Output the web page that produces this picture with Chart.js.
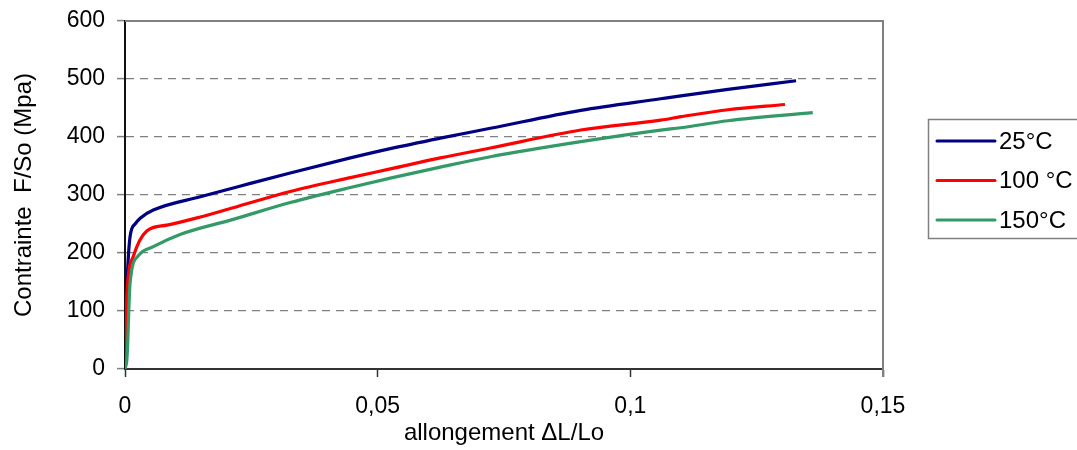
<!DOCTYPE html>
<html>
<head>
<meta charset="utf-8">
<script src="https://cdn.jsdelivr.net/npm/chart.js@4/dist/chart.umd.min.js"></script>
<style>
  html, body { margin: 0; padding: 0; background: #fff; }
  #wrap { width: 1077px; height: 450px; }
</style>
</head>
<body>
<div id="wrap"><canvas id="courbe"></canvas></div>
<script>
// allongement (ΔL/Lo) et contrainte (MPa)
const seriesLabels = ['25°C', '100 °C', '150°C'];
const seriesColors = ['#000080', '#ff0000', '#339966'];

const strain25 = [0, 0.0003, 0.001, 0.002, 0.003, 0.0056, 0.0149, 0.0248, 0.0327, 0.0446, 0.0525, 0.0624, 0.0723, 0.0902, 0.106, 0.11, 0.1193, 0.1328];
const stress25 = [0, 120, 228, 250, 260, 274, 297, 320, 338, 364, 380, 398, 415, 446, 466, 471, 482, 497];

const strain100 = [0, 0.0004, 0.0016, 0.0043, 0.0083, 0.0149, 0.0214, 0.0327, 0.0446, 0.0525, 0.0624, 0.0723, 0.0902, 0.106, 0.11, 0.1193, 0.1306];
const stress100 = [0, 131, 193, 238, 248, 262, 278, 306, 330, 345, 364, 381, 412, 429, 435, 447, 456];

const strain150 = [0, 0.0004, 0.001, 0.0026, 0.0056, 0.0109, 0.0214, 0.0327, 0.0446, 0.0525, 0.0624, 0.0723, 0.0902, 0.106, 0.11, 0.1193, 0.1361];
const stress150 = [0, 20, 148, 195, 211, 232, 258, 287, 313, 329, 348, 366, 392, 412, 416, 428, 442];

const xTicks = [0, 0.05, 0.1, 0.15];
const yTicks = [0, 100, 200, 300, 400, 500, 600];

const toPoints = (xs, ys) => xs.map((x, i) => ({ x: x, y: ys[i] }));
const allSeries = [toPoints(strain25, stress25), toPoints(strain100, stress100), toPoints(strain150, stress150)];

const FONT = '"Liberation Sans", Arial, sans-serif';

// cadre gris du haut et de droite + légende encadrée à droite
const cadre = {
    id: 'cadre',
    afterDraw(chart) {
        const { ctx, chartArea: a } = chart;
        ctx.save();
        ctx.strokeStyle = '#808080';
        ctx.lineWidth = 2;
        ctx.beginPath();
        ctx.moveTo(a.left, a.top);
        ctx.lineTo(a.right, a.top);
        ctx.lineTo(a.right, a.bottom + 8);
        ctx.stroke();

        // légende
        ctx.lineWidth = 1.5;
        ctx.strokeRect(928.5, 119.5, 160, 119);
        ctx.font = '24px ' + FONT;
        ctx.textBaseline = 'middle';
        chart.data.datasets.forEach((ds, i) => {
            const y = 141 + i * 39.5;
            ctx.strokeStyle = ds.borderColor;
            ctx.lineWidth = 3;
            ctx.lineCap = 'round';
            ctx.beginPath();
            ctx.moveTo(937, y);
            ctx.lineTo(995, y);
            ctx.stroke();
            ctx.fillStyle = '#000';
            ctx.fillText(ds.label, 999, y + 1);
        });
        ctx.restore();
    }
};

new Chart(document.getElementById('courbe'), {
    type: 'scatter',
    data: {
        datasets: allSeries.map((pts, i) => ({
            label: seriesLabels[i],
            data: pts,
            showLine: true,
            borderColor: seriesColors[i],
            backgroundColor: seriesColors[i],
            borderWidth: 3.2,
            pointRadius: 0,
            cubicInterpolationMode: 'monotone',
            order: 3 - i
        }))
    },
    options: {
        responsive: true,
        maintainAspectRatio: false,
        animation: false,
        layout: { padding: { top: 21, right: 194, left: 0, bottom: 0 } },
        plugins: {
            legend: { display: false },
            tooltip: { enabled: false }
        },
        scales: {
            x: {
                type: 'linear',
                min: 0,
                max: 0.15,
                afterFit: (s) => { s.height = 81; },
                afterBuildTicks: (s) => { s.ticks = xTicks.map((v) => ({ value: v })); },
                ticks: {
                    color: '#000',
                    padding: 16,
                    font: { family: FONT, size: 23 },
                    callback: (v) => String(v).replace('.', ',')
                },
                grid: { drawOnChartArea: false, tickLength: 8, tickColor: '#333', tickWidth: 1.5 },
                border: { color: '#333', width: 2 },
                title: {
                    display: true,
                    text: 'allongement ΔL/Lo',
                    color: '#000',
                    font: { family: FONT, size: 24 },
                    padding: { top: 0, bottom: 2 }
                }
            },
            y: {
                min: 0,
                max: 600,
                afterFit: (s) => {
                    s.width = 125;
                    s.paddingTop = 10;
                    s.paddingBottom = 10;
                },
                afterBuildTicks: (s) => { s.ticks = yTicks.map((v) => ({ value: v })); },
                ticks: {
                    color: '#000',
                    padding: 12,
                    font: { family: FONT, size: 23 }
                },
                grid: {
                    color: (c) => (c.tick.value === 0 || c.tick.value === 600) ? 'rgba(0,0,0,0)' : '#808080',
                    lineWidth: 1.2,
                    tickLength: 8,
                    tickColor: '#808080',
                    tickWidth: 1.5,
                    tickBorderDash: []
                },
                border: { color: '#111', width: 2, dash: [8, 6] },
                title: {
                    display: true,
                    text: 'Contrainte  F/So (Mpa)',
                    color: '#000',
                    font: { family: FONT, size: 24 },
                    padding: { top: 10, bottom: 0 }
                }
            }
        }
    },
    plugins: [cadre]
});
</script>
</body>
</html>
